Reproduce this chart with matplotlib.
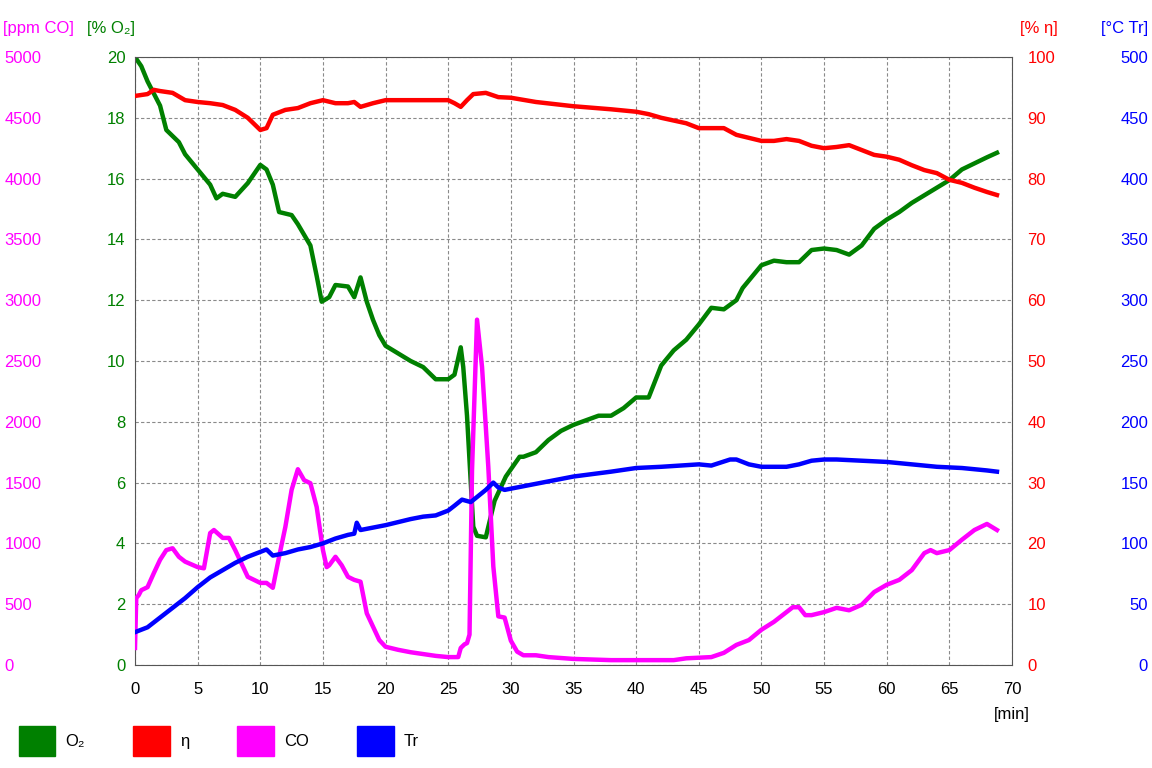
import matplotlib
matplotlib.use("Agg")
import matplotlib.pyplot as plt
from matplotlib.patches import Patch

plt.rcParams['font.family'] = ['Liberation Sans', 'DejaVu Sans']

# O2 [%]
o2_t = [0, 0.5, 1, 2, 2.5, 3, 3.5, 4, 5, 6, 6.5, 7, 8, 9, 10, 10.5, 11, 11.5, 12.5, 13,
        14, 14.5, 14.9, 15.5, 16, 17, 17.5, 18, 18.5, 19, 19.5, 20, 21, 22, 23, 24, 25,
        25.5, 26, 26.2, 26.5, 26.8, 27, 27.3, 28, 28.7, 29.6, 30.7, 31, 32, 33, 34, 35, 36,
        37, 38, 39, 40, 41, 42, 43, 44, 45, 46, 47, 48, 48.5, 49, 50, 51, 52, 53, 54, 55,
        56, 57, 58, 59, 60, 61, 62, 63, 64, 65, 66, 67, 68, 68.8]
o2_v = [20.0, 19.7, 19.2, 18.4, 17.6, 17.4, 17.2, 16.8, 16.3, 15.8, 15.35, 15.5, 15.4,
        15.85, 16.45, 16.3, 15.8, 14.9, 14.8, 14.5, 13.8, 12.8, 11.95, 12.1, 12.5, 12.45,
        12.1, 12.75, 11.95, 11.35, 10.85, 10.5, 10.25, 10.0, 9.8, 9.4, 9.4, 9.55, 10.45,
        9.8, 8.2, 6.0, 4.55, 4.25, 4.2, 5.4, 6.2, 6.85, 6.85, 7.0, 7.4, 7.7, 7.9, 8.05,
        8.2, 8.2, 8.45, 8.8, 8.8, 9.85, 10.35, 10.7, 11.2, 11.75, 11.7, 12.0, 12.4, 12.65,
        13.15, 13.3, 13.25, 13.25, 13.65, 13.7, 13.65, 13.5, 13.8, 14.35, 14.65, 14.9,
        15.2, 15.45, 15.7, 15.95, 16.3, 16.5, 16.7, 16.85]

# efficiency eta [%]
eta_t = [0, 1, 1.5, 2, 3, 4, 5, 6, 7, 8, 9, 10, 10.5, 11, 12, 13, 14, 15, 16, 17, 17.5,
         18, 19, 20, 22, 25, 25.5, 26, 26.5, 27, 28, 29, 30, 32, 35, 38, 40, 41, 42, 44,
         45, 47, 48, 50, 51, 52, 53, 54, 55, 56, 57, 58, 59, 60, 61, 62, 63, 64, 65, 66,
         67, 68, 68.8]
eta_v = [93.6, 93.9, 94.6, 94.4, 94.1, 92.9, 92.6, 92.4, 92.1, 91.3, 90.0, 88.0, 88.3,
         90.5, 91.3, 91.6, 92.4, 92.9, 92.4, 92.4, 92.6, 91.8, 92.4, 92.9, 92.9, 92.9,
         92.4, 91.8, 92.9, 93.9, 94.1, 93.4, 93.3, 92.6, 91.9, 91.4, 91.0, 90.6, 90.0,
         89.1, 88.3, 88.3, 87.2, 86.2, 86.2, 86.5, 86.2, 85.4, 85.0, 85.2, 85.5, 84.7,
         83.9, 83.6, 83.1, 82.2, 81.4, 80.9, 79.8, 79.3, 78.5, 77.8, 77.3]

# CO [ppm]
co_t = [0, 0.1, 0.3, 0.5, 1, 1.5, 2, 2.5, 3, 3.5, 4, 5, 5.5, 6, 6.3, 7, 7.5, 8, 9, 10,
        10.5, 11, 11.5, 12, 12.5, 13, 13.5, 14, 14.5, 15, 15.3, 15.5, 16, 16.5, 17, 17.5,
        18, 18.5, 19, 19.5, 20, 21, 22, 23, 24, 25, 25.8, 26, 26.3, 26.5, 26.7, 26.9,
        27.3, 27.7, 28.2, 28.6, 29.0, 29.5, 30.0, 30.5, 31, 32, 33, 35, 38, 40, 43, 44, 46,
        47, 48, 49, 50, 51, 52, 52.5, 53, 53.5, 54, 55, 56, 57, 58, 59, 60, 61, 62, 63,
        63.5, 64, 65, 66, 67, 68, 68.8]
co_v = [140, 550, 575, 615, 640, 755, 865, 945, 960, 890, 850, 805, 795, 1085, 1110,
        1045, 1045, 945, 725, 675, 675, 635, 890, 1135, 1440, 1610, 1520, 1495, 1300,
        945, 805, 820, 890, 820, 725, 700, 685, 425, 315, 205, 150, 125, 105, 90, 75, 65,
        65, 140, 170, 180, 250, 1600, 2840, 2450, 1630, 810, 400, 390, 200, 110, 80, 80,
        65, 50, 40, 40, 40, 55, 65, 100, 165, 205, 290, 355, 435, 475, 475, 410, 410,
        435, 470, 450, 495, 600, 660, 700, 780, 920, 945, 920, 945, 1030, 1110, 1160,
        1110]

# flue gas temperature Tr [°C]
tr_t = [0, 1, 2, 3, 4, 5, 6, 7, 8, 9, 10, 10.5, 11, 12, 13, 14, 15, 16, 17, 17.5, 17.7,
        18, 19, 20, 21, 22, 23, 24, 25, 25.5, 26.1, 26.8, 28, 28.6, 29, 29.5, 30, 32, 35,
        38, 40, 42, 45, 46, 47.5, 48, 49, 50, 52, 53, 54, 55, 56, 58, 60, 62, 64, 66, 68,
        68.8]
tr_v = [27, 31, 39, 47, 55, 64, 72, 78, 84, 89, 93, 95, 90, 92, 95, 97, 100, 104, 107,
        108, 117, 111, 113, 115, 117.5, 120, 122, 123, 127, 131, 136, 134, 144, 150, 146,
        144, 145, 149, 155, 159, 162, 163, 165, 164, 169, 169, 165, 163, 163, 165, 168,
        169, 169, 168, 167, 165, 163, 162, 160, 159]

x_ticks = list(range(0, 75, 5))
o2_ticks = list(range(0, 22, 2))
co_ticks = list(range(0, 5500, 500))
eta_ticks = list(range(0, 110, 10))
tr_ticks = list(range(0, 550, 50))

c_o2 = '#008000'
c_eta = '#ff0000'
c_co = '#ff00ff'
c_tr = '#0000ff'
lw = 3.2
fs = 12

fig = plt.figure(figsize=(11.52, 7.68), dpi=100)
ax = fig.add_axes([135 / 1152, 1 - 665 / 768, 877 / 1152, 608 / 768])
ax_eta = ax.twinx()
ax_co = ax.twinx()
ax_tr = ax.twinx()

ax.plot(o2_t, o2_v, color=c_o2, lw=lw)
ax_eta.plot(eta_t, eta_v, color=c_eta, lw=lw)
ax_co.plot(co_t, co_v, color=c_co, lw=lw)
ax_tr.plot(tr_t, tr_v, color=c_tr, lw=lw)

ax.set_xlim(0, 70)
ax.set_xticks(x_ticks)
ax.set_ylim(0, 20)
ax.set_yticks(o2_ticks)
ax_eta.set_ylim(0, 100)
ax_eta.set_yticks(eta_ticks)
ax_co.set_ylim(0, 5000)
ax_co.set_yticks(co_ticks)
ax_tr.set_ylim(0, 500)
ax_tr.set_yticks(tr_ticks)

ax.grid(True, color='#8a8a8a', linestyle=(0, (3, 2)), linewidth=0.8)
ax.set_axisbelow(True)
for s in ax.spines.values():
    s.set_color('#555555')
for a in (ax_eta, ax_co, ax_tr):
    for s in a.spines.values():
        s.set_visible(False)

ax.tick_params(axis='x', length=0, pad=12, labelsize=fs, labelcolor='black')
ax.tick_params(axis='y', length=0, pad=7, labelsize=fs, labelcolor=c_o2)

ax_co.yaxis.set_ticks_position('left')
ax_co.tick_params(axis='y', length=0, pad=94, labelsize=fs, labelcolor=c_co)
for lab in ax_co.get_yticklabels():
    lab.set_horizontalalignment('left')

ax_eta.tick_params(axis='y', length=0, pad=11, labelsize=fs, labelcolor=c_eta)

ax_tr.tick_params(axis='y', length=0, pad=98, labelsize=fs, labelcolor=c_tr)
for lab in ax_tr.get_yticklabels():
    lab.set_horizontalalignment('right')

# unit headers
fig.text(3 / 1152, 1 - 28 / 768, '[ppm CO]', color=c_co, fontsize=fs, va='center')
fig.text(87 / 1152, 1 - 28 / 768, '[% O₂]', color=c_o2, fontsize=fs, va='center')
fig.text(1020 / 1152, 1 - 28 / 768, '[% η]', color=c_eta, fontsize=fs, va='center')
fig.text(1148 / 1152, 1 - 28 / 768, '[°C Tr]', color=c_tr, fontsize=fs, va='center', ha='right')
fig.text(1012 / 1152, 1 - 715 / 768, '[min]', color='black', fontsize=fs, va='center', ha='center')

handles = [Patch(color=c) for c in (c_o2, c_eta, c_co, c_tr)]
fig.legend(handles, ['O₂', 'η', 'CO', 'Tr'], loc='center left',
           bbox_to_anchor=(12 / 1152, 1 - 741 / 768), ncol=4, frameon=False,
           fontsize=fs, handlelength=2.2, handleheight=2.4, handletextpad=0.6,
           columnspacing=2.9, borderaxespad=0)

fig.savefig('out.png', dpi=100)
